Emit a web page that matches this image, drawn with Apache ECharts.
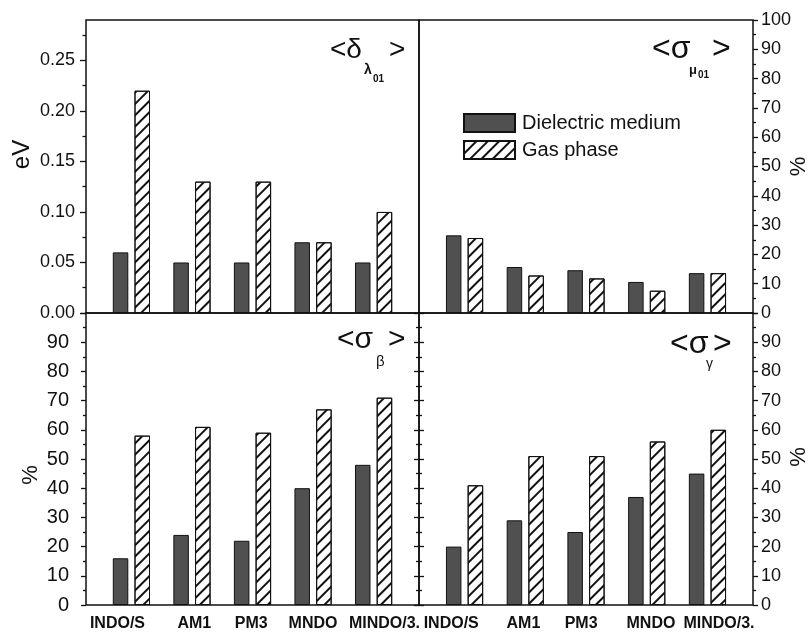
<!DOCTYPE html>
<html><head><meta charset="utf-8">
<script src="https://cdn.jsdelivr.net/npm/echarts@6/dist/echarts.min.js"></script>
<style>html,body{margin:0;padding:0;background:#fff}#c{width:809px;height:633px}</style>
</head><body><div id="c"></div>
<script>
// ---- data ----
const categories = ['INDO/S', 'AM1', 'PM3', 'MNDO', 'MINDO/3.'];
const seriesNames = ['Dielectric medium', 'Gas phase'];
const deltaLambdaDielectric = [0.06, 0.05, 0.05, 0.07, 0.05];
const deltaLambdaGas = [0.22, 0.13, 0.13, 0.07, 0.10];
const sigmaMuDielectric = [26.5, 15.7, 14.6, 10.6, 13.6];
const sigmaMuGas = [25.6, 12.8, 11.8, 7.6, 13.6];
const sigmaBetaDielectric = [16, 24, 22, 40, 48];
const sigmaBetaGas = [58, 61, 59, 67, 71];
const sigmaGammaDielectric = [20, 29, 25, 37, 45];
const sigmaGammaGas = [41, 51, 51, 56, 60];
const evTicks = [0, 0.05, 0.10, 0.15, 0.20, 0.25];
const evMinorTicks = [0.025, 0.075, 0.125, 0.175, 0.225, 0.275];
// where the category names sit along the x scale (bars are at 1..5)
const leftLabelSlots = [0.77, 2.04, 2.98, 4.0, 5.18];
const rightLabelSlots = [0.78, 1.97, 2.92, 4.07, 5.19];

// ---- styling ----
const FONT = 'Liberation Sans, Arial, Helvetica, sans-serif';
const black = '#111';
const frameGrid = (left, top, width, height) => ({
  left, top, width, height, show: true, borderColor: black, borderWidth: 1.5,
  backgroundColor: 'rgba(0,0,0,0)', containLabel: false, outerBoundsMode: 'none'
});
const grids = [
  frameGrid(86, 20, 333, 293),
  frameGrid(419, 20, 334, 293),
  frameGrid(86, 313, 333, 292),
  frameGrid(419, 313, 334, 292)
];
const nearestIndex = (slots, v) => {
  let best = 0;
  slots.forEach((s, i) => { if (Math.abs(s - v) < Math.abs(slots[best] - v)) best = i; });
  return best;
};
const xAxisFor = (g, slots) => ({
  gridIndex: g, type: 'value', min: 0.25, max: 5.75,
  axisLine: { show: false }, axisTick: { show: false }, splitLine: { show: false },
  axisLabel: slots ? {
    customValues: slots,
    formatter: v => categories[nearestIndex(slots, v)],
    fontFamily: FONT, fontWeight: 'bold', fontSize: 16, color: black, margin: 11
  } : { show: false }
});
const tickStyle = { color: black, width: 1.3 };
const labelStyle = (size) => ({ fontFamily: FONT, fontSize: size, color: black });
const nameStyle = (size, padding) => ({ fontFamily: FONT, fontSize: size, color: black, padding: padding || 0 });
const pctAxis = (g, pos, opts) => Object.assign({
  gridIndex: g, type: 'value', min: 0, max: 100, interval: 10, position: pos,
  axisLine: { show: false }, splitLine: { show: false },
  axisTick: { show: true, inside: false, length: 5, lineStyle: tickStyle },
  minorTick: { show: true, splitNumber: 2, length: 3, lineStyle: tickStyle },
  axisLabel: Object.assign({ margin: 8 }, labelStyle(18)),
  nameMoveOverlap: false
}, opts);

const yAxes = [
  // 0: top-left eV (labels + major ticks)
  { gridIndex: 0, type: 'value', min: 0, max: 0.29, position: 'left',
    axisLine: { show: false }, splitLine: { show: false },
    axisTick: { show: true, customValues: evTicks, length: 6, lineStyle: tickStyle },
    axisLabel: Object.assign({ customValues: evTicks, formatter: v => v.toFixed(2), margin: 11 }, labelStyle(18)),
    name: 'eV', nameLocation: 'middle', nameGap: 52, nameRotate: 90, nameMoveOverlap: false,
    nameTextStyle: nameStyle(24, [0, 0, 0, 24]) },
  // 1: top-left minor ticks
  { gridIndex: 0, type: 'value', min: 0, max: 0.29, position: 'left',
    axisLine: { show: false }, splitLine: { show: false }, axisLabel: { show: false },
    axisTick: { show: true, customValues: evMinorTicks, length: 3.5, lineStyle: tickStyle } },
  // 2: top-right %
  pctAxis(1, 'right', { name: '%', nameLocation: 'middle', nameGap: 35, nameRotate: 90,
    nameTextStyle: nameStyle(22) }),
  // 3: bottom-left %
  pctAxis(2, 'left', { axisLabel: Object.assign({ margin: 17, showMaxLabel: false }, labelStyle(20)),
    name: '%', nameLocation: 'middle', nameGap: 44, nameRotate: 90,
    nameTextStyle: nameStyle(22, [0, 32, 0, 0]) }),
  // 4: bottom-left right-edge inner ticks
  pctAxis(2, 'right', { axisLabel: { show: false },
    axisTick: { show: true, inside: true, length: 5, lineStyle: tickStyle },
    minorTick: { show: true, splitNumber: 2, length: 3, lineStyle: tickStyle } }),
  // 5: bottom-right %
  pctAxis(3, 'right', { axisLabel: Object.assign({ margin: 8, showMaxLabel: false }, labelStyle(18)),
    name: '%', nameLocation: 'middle', nameGap: 35, nameRotate: 90,
    nameTextStyle: nameStyle(22, [0, 0, 0, 4]) }),
  // 6: bottom-right left-edge inner ticks
  pctAxis(3, 'left', { axisLabel: { show: false },
    axisTick: { show: true, inside: true, length: 5, lineStyle: tickStyle },
    minorTick: { show: true, splitNumber: 2, length: 3, lineStyle: tickStyle } })
];

const darkStyle = { color: '#505050', borderColor: black, borderWidth: 1 };
const hatchStyle = {
  color: '#ffffff', borderColor: black, borderWidth: 1,
  decal: { symbol: 'rect', symbolSize: 1, color: '#111', dashArrayX: [1, 0], dashArrayY: [1.2, 6], rotation: -Math.PI / 4 }
};
const toPoints = arr => arr.map((v, i) => [i + 1, v]);
const barPair = (g, yIdx, dark, gas) => [
  { type: 'bar', name: seriesNames[0], xAxisIndex: g, yAxisIndex: yIdx, data: toPoints(dark),
    barWidth: 15.5, barGap: '40%', itemStyle: darkStyle, silent: true },
  { type: 'bar', name: seriesNames[1], xAxisIndex: g, yAxisIndex: yIdx, data: toPoints(gas),
    barWidth: 15.5, barGap: '40%', itemStyle: hatchStyle, silent: true }
];

const txt = (x, y, text, size, bold) => ({
  type: 'text', left: x, top: y - size * 0.6,
  style: { text, fontFamily: FONT, fontSize: size, fontWeight: bold ? 'bold' : 'normal', fill: black }
});

const option = {
  animation: false,
  backgroundColor: '#fff',
  grid: grids,
  xAxis: [xAxisFor(0, null), xAxisFor(1, null), xAxisFor(2, leftLabelSlots), xAxisFor(3, rightLabelSlots)],
  yAxis: yAxes,
  legend: {
    data: seriesNames, orient: 'vertical', left: 463, top: 113, icon: 'rect', padding: 0,
    itemWidth: 51, itemHeight: 18, itemGap: 7, selectedMode: false,
    textStyle: { fontFamily: FONT, fontSize: 20, color: black, padding: [0, 0, 0, 2] }
  },
  series: [].concat(
    barPair(0, 0, deltaLambdaDielectric, deltaLambdaGas),
    barPair(1, 2, sigmaMuDielectric, sigmaMuGas),
    barPair(2, 3, sigmaBetaDielectric, sigmaBetaGas),
    barPair(3, 5, sigmaGammaDielectric, sigmaGammaGas)
  ),
  graphic: [
    txt(330, 53, '<δ', 28), txt(364, 72, 'λ', 14, true), txt(373, 80, '01', 10, true), txt(389, 53, '>', 28),
    txt(652, 52, '<σ', 32), txt(689, 72, 'μ', 13, true), txt(698, 76, '01', 10, true), txt(712, 52, '>', 32),
    txt(337, 343, '<σ', 30), txt(376, 363, 'β', 15), txt(388, 343, '>', 30),
    txt(670, 347, '<σ', 32), txt(706, 366, 'γ', 14), txt(713, 347, '>', 32)
  ]
};
const chart = echarts.init(document.getElementById('c'), null, { renderer: 'canvas' });
chart.setOption(option);
</script></body></html>
